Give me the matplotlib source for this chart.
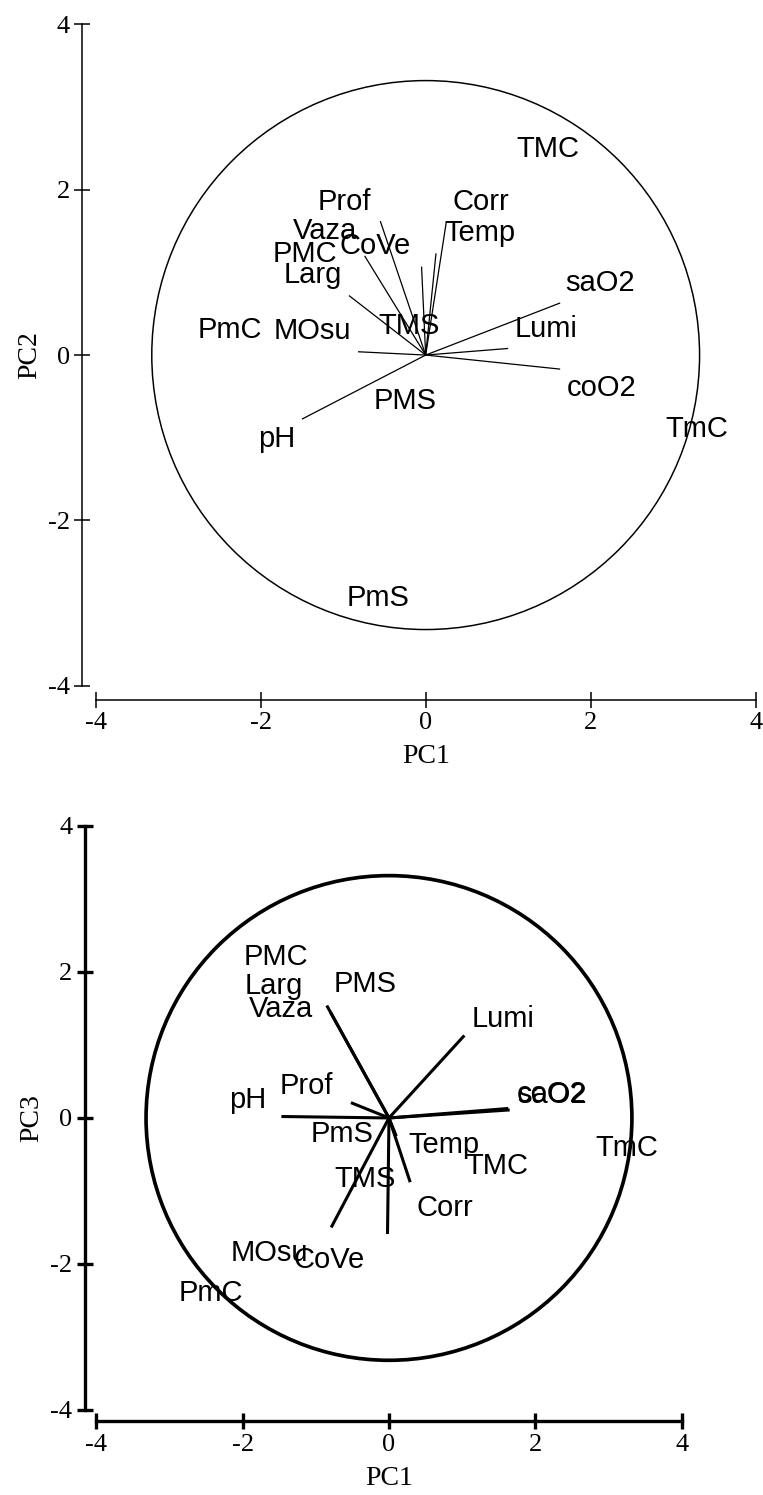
import numpy as np
import matplotlib.pyplot as plt
from matplotlib.patches import Circle

plt.rcParams['axes.unicode_minus'] = False

# variable vectors (line ends)
variables = ['pH', 'Prof', 'Vaza', 'Larg', 'MOsu', 'CoVe', 'Corr', 'Temp', 'Lumi', 'saO2', 'coO2']
vec_pc1_a = [-1.50, -0.55, -0.74, -0.93, -0.82, -0.05, 0.125, 0.25, 1.00, 1.63, 1.63]
vec_pc2 = [-0.775, 1.62, 1.20, 0.72, 0.04, 1.07, 1.23, 1.61, 0.08, 0.63, -0.17]
vec_pc1_b = [-1.47, -0.52, -0.85, -0.80, -0.79, -0.02, 0.10, 0.29, 1.03, 1.65, 1.63]
vec_pc3 = [0.02, 0.21, 1.54, 1.45, -1.50, -1.59, -0.25, -0.88, 1.13, 0.11, 0.13]

# label positions (left edge, baseline)
names_a = ['TMC', 'Corr', 'Prof', 'Vaza', 'CoVe', 'Temp', 'PMC', 'Larg', 'saO2', 'PmC', 'MOsu',
           'TMS', 'Lumi', 'coO2', 'PMS', 'TmC', 'pH', 'PmS']
lab_pc1_a = [1.10, 0.33, -1.31, -1.61, -1.05, 0.23, -1.85, -1.72, 1.69, -2.77, -1.84,
             -0.57, 1.08, 1.71, -0.63, 2.90, -2.03, -0.96]
lab_pc2 = [2.39, 1.76, 1.76, 1.40, 1.22, 1.38, 1.13, 0.87, 0.77, 0.21, 0.19,
           0.26, 0.22, -0.50, -0.65, -0.99, -1.11, -3.04]

names_b = ['PMC', 'Larg', 'PMS', 'Vaza', 'Lumi', 'Prof', 'pH', 'coO2', 'saO2', 'PmS',
           'Temp', 'TmC', 'TMC', 'TMS', 'Corr', 'MOsu', 'CoVe', 'PmC']
lab_pc1_b = [-1.98, -1.97, -0.75, -1.92, 1.13, -1.49, -2.18, 1.75, 1.75, -1.07,
             0.26, 2.82, 1.04, -0.75, 0.37, -2.17, -1.31, -2.88]
lab_pc3 = [2.10, 1.70, 1.72, 1.38, 1.24, 0.33, 0.14, 0.22, 0.20, -0.33,
           -0.48, -0.52, -0.77, -0.95, -1.34, -1.96, -2.05, -2.51]

radius = 3.32
ticks = [-4, -2, 0, 2, 4]

serif = 'Liberation Serif'
sans = 'Liberation Sans'


def biplot(ax, vx, vy, lx, ly, names, ylabel, lw, spine_w, offset, tick_len):
    for x, y in zip(vx, vy):
        ax.plot([0, x], [0, y], color='black', lw=lw, solid_capstyle='butt')
    ax.add_patch(Circle((0, 0), radius, fill=False, ec='black', lw=lw * 1.2))
    for x, y, s in zip(lx, ly, names):
        ax.text(x, y, s, ha='left', va='baseline', fontsize=21, family=sans)
    ax.set_xlim(-4, 4)
    ax.set_ylim(-4, 4)
    ax.set_xticks(ticks)
    ax.set_yticks(ticks)
    for sp in ['top', 'right']:
        ax.spines[sp].set_visible(False)
    for sp in ['left', 'bottom']:
        ax.spines[sp].set_position(('outward', offset))
        ax.spines[sp].set_linewidth(spine_w)
    ax.tick_params(direction='inout', length=tick_len, width=spine_w, labelsize=19, pad=3)
    for t in ax.get_xticklabels() + ax.get_yticklabels():
        t.set_family(serif)
    ax.set_xlabel('PC1', family=serif, fontsize=20, labelpad=7)
    ax.set_ylabel(ylabel, family=serif, fontsize=20, labelpad=4)


fig = plt.figure(figsize=(7.63, 14.95), dpi=100)
ax1 = fig.add_axes([0.1254, 0.5413, 0.8650, 0.4424])
ax2 = fig.add_axes([0.1262, 0.0569, 0.7672, 0.3906])

biplot(ax1, vec_pc1_a, vec_pc2, lab_pc1_a, lab_pc2, names_a, 'PC2', 0.9, 1.1, 10, 11.5)
biplot(ax2, vec_pc1_b, vec_pc3, lab_pc1_b, lab_pc3, names_b, 'PC3', 2.2, 2.4, 8.3, 12)

fig.savefig('out.png', dpi=100)
